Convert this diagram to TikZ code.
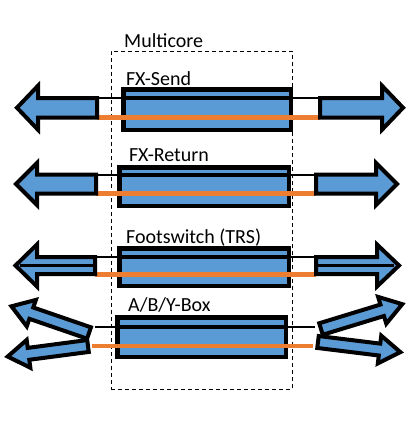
\documentclass[tikz,border=0pt]{standalone}
\usepackage{fontspec}
\setmainfont{Carlito}
\definecolor{fillblue}{HTML}{5B9BD5}
\definecolor{cableorange}{HTML}{ED7D31}
\tikzset{
  box/.style={draw=black, line width=4.5pt, fill=fillblue, inner sep=0pt, outer sep=0pt},
  arr/.style={draw=black, line width=4pt, fill=fillblue, line join=miter, miter limit=10},
  wire/.style={draw=black, line width=2pt},
  core/.style={draw=black, line width=4pt},
  midline/.style={draw=black, line width=3.5pt},
  ocable/.style={draw=cableorange, line width=4.5pt},
  lbl/.style={anchor=base west, inner sep=0pt, font=\fontsize{20}{24}\selectfont},
  frame/.style={draw=black, dash pattern=on 4pt off 3pt, line width=1pt}
}
% #1 tail coordinate, #2 angle, #3 length, #4 shaft half width, #5 head half width, #6 head length
\newcommand\blockarr[6]{%
  \begin{scope}[shift={(#1)}, rotate=#2]
    \draw[arr] (0,-#4) -- ({#3-#6},-#4) -- ({#3-#6},-#5) -- (#3,0)
      -- ({#3-#6},#5) -- ({#3-#6},#4) -- (0,#4) -- cycle;
  \end{scope}}
\begin{document}
\begin{tikzpicture}[x=1pt, y=-1pt]
\useasboundingbox (0,0) rectangle (419,448);

% dashed multicore frame
\node[frame, inner sep=0pt, minimum width=181pt, minimum height=338pt] (frm) at (201.5,220) {};
\node[lbl] (mc) at (124,47) {Multicore};

% ---------- Row 1: FX-Send ----------
\node[lbl] (t1) at (126,85) {FX-Send};
\node[box, minimum width=167.5pt, minimum height=40.5pt] (b1) at (207,109.5) {};
\coordinate (w1l) at (97,98);   \coordinate (w1r) at (320,98);
\coordinate (o1l) at (97,117.5); \coordinate (o1r) at (320,117.5);
\draw[wire] (w1l) -- (w1r);
\draw[core] (b1.west |- w1l) -- (b1.east |- w1l);
\draw[ocable] (o1l) -- (o1r);
\coordinate (L1) at (97,107.75);
\coordinate (R1) at (320,107.75);
\blockarr{L1}{180}{80}{9.75}{22}{21}
\blockarr{R1}{0}{83}{9.75}{22}{21}

% ---------- Row 2: FX-Return ----------
\node[lbl] (t2) at (129,161) {FX-Return};
\node[box, minimum width=169.5pt, minimum height=38.5pt] (b2) at (204,186.5) {};
\coordinate (w2l) at (96,174.5);  \coordinate (w2r) at (316,174.5);
\coordinate (o2l) at (96,193.5);  \coordinate (o2r) at (316,193.5);
\draw[wire] (w2l) -- (w2r);
\draw[core] (b2.west |- w2l) -- (b2.east |- w2l);
\draw[ocable] (o2l) -- (o2r);
\coordinate (L2) at (96,184);
\coordinate (R2) at (316,184);
\blockarr{L2}{180}{80}{9.5}{21}{21}
\blockarr{R2}{0}{81}{9.5}{21}{21}

% ---------- Row 3: Footswitch (TRS) ----------
\node[lbl] (t3) at (126,243) {Footswitch (TRS)};
\node[box, minimum width=169.5pt, minimum height=37.5pt] (b3) at (204,267) {};
\coordinate (w3l) at (95,257);  \coordinate (w3r) at (316,257);
\coordinate (o3l) at (95,274.5);  \coordinate (o3r) at (316,274.5);
\draw[wire] (w3l) -- (w3r);
\draw[core] (b3.west |- w3l) -- (b3.east |- w3l);
\draw[ocable] (o3l) -- (o3r);
\coordinate (L3) at (95,265.5);
\coordinate (R3) at (316,265.5);
\coordinate (L3tip) at (20,265.5);
\coordinate (R3tip) at (394,265.5);
\blockarr{L3}{180}{79.5}{8.5}{21}{21.5}
\blockarr{R3}{0}{83}{8.5}{21}{22}
\draw[midline] (L3) -- (L3tip);
\draw[midline] (R3) -- (R3tip);

% ---------- Row 4: A/B/Y-Box ----------
\node[lbl] (t4) at (128,311) {A/B/Y-Box};
\node[box, minimum width=168.5pt, minimum height=39.5pt] (b4) at (201.5,337) {};
\coordinate (w4l) at (95,327);  \coordinate (w4r) at (315,327);
\coordinate (o4l) at (92,346);  \coordinate (o4r) at (313,346);
\draw[wire] (w4l) -- (w4r);
\draw[core] (b4.west |- w4l) -- (b4.east |- w4l);
\draw[ocable] (o4l) -- (o4r);
\coordinate (UL) at (89,333);
\coordinate (LL) at (88,346);
\coordinate (UR) at (321,329);
\coordinate (LR) at (318,342);
\blockarr{UL}{161}{82}{6}{14}{21}
\blockarr{LL}{187.5}{81}{6}{14}{21}
\blockarr{UR}{17}{85}{6}{14}{21}
\blockarr{LR}{-7}{83}{6}{14}{21}
\end{tikzpicture}
\end{document}
